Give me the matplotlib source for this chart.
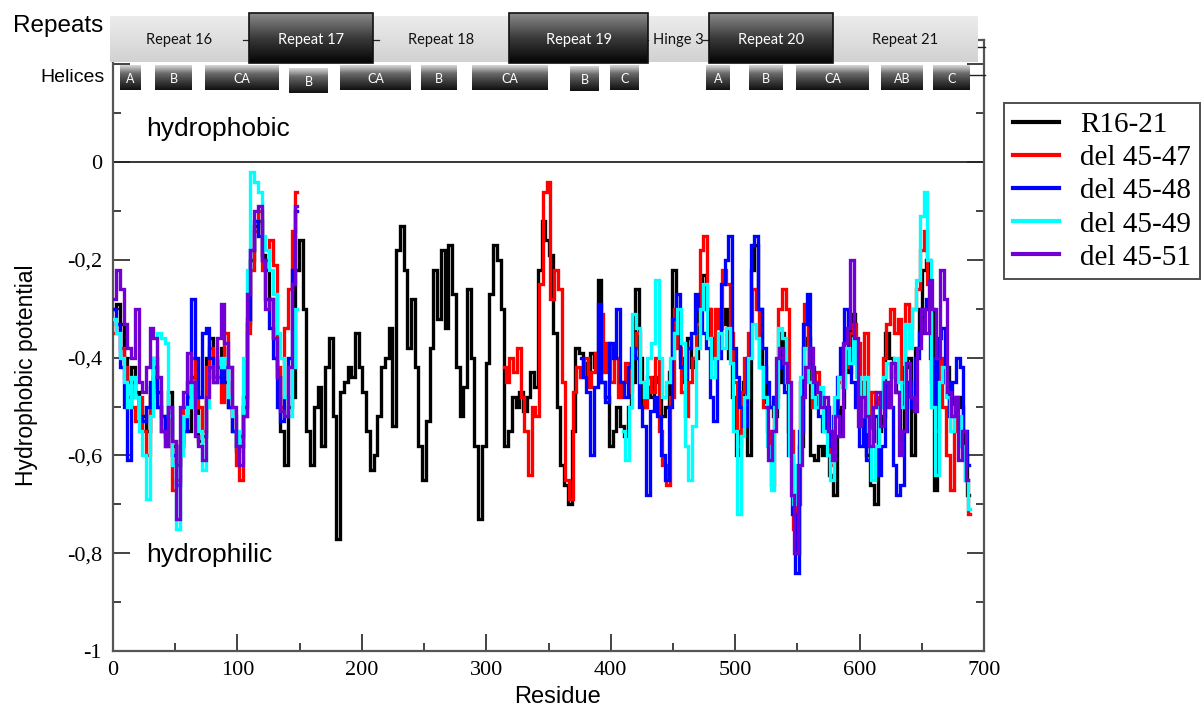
import numpy as np
import matplotlib
matplotlib.use("Agg")
import matplotlib.pyplot as plt
from matplotlib.colors import LinearSegmentedColormap
from matplotlib.patches import Rectangle
from matplotlib.ticker import MultipleLocator, FixedLocator, FixedFormatter

# ---------------------------------------------------------------- data
# Hydrophobic potential per residue window, sampled every 3 residues.
STEP = 3

r16_21_start = 1
r16_21 = [
    -0.30, -0.29, -0.33, -0.40, -0.45, -0.42, -0.47, -0.50, -0.52, -0.55,
    -0.46, -0.40, -0.47, -0.52, -0.56, -0.47, -0.58, -0.62, -0.58, -0.52,
    -0.55, -0.44, -0.50, -0.57, -0.56, -0.40, -0.36, -0.44, -0.42, -0.38,
    -0.45, -0.50, -0.55, -0.59, -0.58, -0.50, -0.33, -0.20, -0.13, -0.12,
    -0.19, -0.22, -0.28, -0.36, -0.44, -0.55, -0.62, -0.50, -0.48, -0.22,
    -0.16, -0.30, -0.55, -0.62, -0.50, -0.46, -0.58, -0.42, -0.36, -0.52,
    -0.77, -0.47, -0.45, -0.42, -0.44, -0.35, -0.42, -0.47, -0.55, -0.63,
    -0.60, -0.52, -0.42, -0.40, -0.34, -0.54, -0.18, -0.13, -0.22, -0.38,
    -0.28, -0.42, -0.58, -0.65, -0.53, -0.38, -0.22, -0.32, -0.18, -0.34,
    -0.17, -0.27, -0.42, -0.52, -0.46, -0.26, -0.40, -0.58, -0.73, -0.58,
    -0.41, -0.27, -0.17, -0.20, -0.30, -0.58, -0.55, -0.48, -0.50, -0.47,
    -0.51, -0.48, -0.43, -0.46, -0.22, -0.12, -0.16, -0.19, -0.35, -0.50,
    -0.62, -0.66, -0.70, -0.55, -0.38, -0.39, -0.41, -0.44, -0.39, -0.42,
    -0.24, -0.45, -0.48, -0.58, -0.55, -0.50, -0.54, -0.56, -0.50, -0.45,
    -0.26, -0.40, -0.50, -0.46, -0.48, -0.44, -0.45, -0.52, -0.50, -0.43,
    -0.22, -0.35, -0.40, -0.45, -0.36, -0.42, -0.40, -0.30, -0.23, -0.30,
    -0.36, -0.40, -0.38, -0.33, -0.30, -0.40, -0.48, -0.60, -0.55, -0.45,
    -0.60, -0.22, -0.17, -0.30, -0.42, -0.49, -0.50, -0.52, -0.45, -0.35,
    -0.40, -0.55, -0.68, -0.80, -0.58, -0.38, -0.36, -0.60, -0.61, -0.58,
    -0.60, -0.58, -0.64, -0.68, -0.56, -0.50, -0.40, -0.43, -0.31, -0.40,
    -0.50, -0.45, -0.60, -0.66, -0.70, -0.55, -0.52, -0.35, -0.40, -0.43,
    -0.47, -0.55, -0.42, -0.40, -0.60, -0.38, -0.30, -0.22, -0.20, -0.30,
    -0.67, -0.48, -0.45, -0.42, -0.50, -0.52, -0.48, -0.50, -0.60, -0.68,
]

# Deletion mutants: N-terminal part (repeats 16-17) and C-terminal part
del47_n_start = 1
del47_n = [
    -0.35, -0.33, -0.38, -0.42, -0.48, -0.50, -0.53, -0.48, -0.55, -0.60,
    -0.48, -0.44, -0.50, -0.55, -0.58, -0.52, -0.67, -0.65, -0.57, -0.50,
    -0.48, -0.40, -0.47, -0.50, -0.55, -0.42, -0.38, -0.45, -0.44, -0.49,
    -0.35, -0.42, -0.52, -0.62, -0.65, -0.52, -0.35, -0.22, -0.14, -0.10,
    -0.22, -0.20, -0.16, -0.21, -0.42, -0.50, -0.34, -0.26, -0.14, -0.06,
]
del47_c_start = 314
del47_c = [
    -0.42, -0.45, -0.40, -0.43, -0.38, -0.48, -0.55, -0.64, -0.50, -0.52,
    -0.25, -0.06, -0.04, -0.28, -0.22, -0.26, -0.45, -0.65, -0.69, -0.47,
    -0.42, -0.44, -0.40, -0.46, -0.43, -0.39, -0.31, -0.43, -0.37, -0.45,
    -0.40, -0.48, -0.45, -0.41, -0.47, -0.38, -0.35, -0.45, -0.50, -0.44,
    -0.47, -0.40, -0.55, -0.62, -0.66, -0.48, -0.30, -0.38, -0.47, -0.52,
    -0.45, -0.40, -0.33, -0.18, -0.15, -0.30, -0.40, -0.30, -0.34, -0.22,
    -0.25, -0.35, -0.45, -0.58, -0.47, -0.40, -0.35, -0.26, -0.30, -0.42,
    -0.50, -0.55, -0.66, -0.48, -0.30, -0.26, -0.30, -0.55, -0.75, -0.70,
    -0.45, -0.29, -0.38, -0.50, -0.43, -0.48, -0.52, -0.55, -0.62, -0.50,
    -0.45, -0.38, -0.42, -0.35, -0.33, -0.37, -0.48, -0.35, -0.55, -0.47,
    -0.50, -0.48, -0.40, -0.33, -0.30, -0.35, -0.32, -0.45, -0.29, -0.34,
    -0.30, -0.26, -0.18, -0.14, -0.25, -0.45, -0.55, -0.40, -0.50, -0.60,
    -0.67, -0.52, -0.55, -0.58, -0.65, -0.72,
]

del48_n_start = 1
del48_n = [
    -0.30, -0.33, -0.42, -0.50, -0.61, -0.45, -0.48, -0.52, -0.53, -0.50,
    -0.45, -0.42, -0.50, -0.55, -0.52, -0.50, -0.60, -0.66, -0.58, -0.55,
    -0.45, -0.28, -0.40, -0.48, -0.35, -0.34, -0.40, -0.44, -0.40, -0.45,
    -0.42, -0.50, -0.55, -0.58, -0.56, -0.48, -0.32, -0.18, -0.12, -0.15,
    -0.20, -0.28, -0.34, -0.40, -0.50, -0.53, -0.48, -0.40, -0.22, -0.10,
]
del48_c_start = 376
del48_c = [
    -0.40, -0.44, -0.47, -0.60, -0.46, -0.29, -0.45, -0.49, -0.37, -0.40,
    -0.30, -0.45, -0.48, -0.42, -0.38, -0.40, -0.50, -0.54, -0.68, -0.51,
    -0.48, -0.52, -0.60, -0.65, -0.50, -0.32, -0.27, -0.42, -0.44, -0.38,
    -0.35, -0.27, -0.30, -0.35, -0.38, -0.48, -0.53, -0.40, -0.25, -0.20,
    -0.15, -0.38, -0.44, -0.50, -0.54, -0.40, -0.17, -0.15, -0.30, -0.38,
    -0.45, -0.50, -0.48, -0.42, -0.40, -0.47, -0.60, -0.72, -0.84, -0.55,
    -0.33, -0.27, -0.42, -0.48, -0.52, -0.55, -0.50, -0.58, -0.52, -0.44,
    -0.38, -0.30, -0.40, -0.45, -0.50, -0.58, -0.50, -0.61, -0.57, -0.52,
    -0.64, -0.58, -0.45, -0.50, -0.62, -0.68, -0.66, -0.55, -0.45, -0.50,
    -0.40, -0.35, -0.30, -0.28, -0.40, -0.50, -0.36, -0.34, -0.45, -0.52,
    -0.45, -0.40, -0.42, -0.55, -0.62,
]

del49_n_start = 1
del49_n = [
    -0.32, -0.35, -0.40, -0.45, -0.50, -0.44, -0.48, -0.55, -0.60, -0.69,
    -0.52, -0.40, -0.35, -0.36, -0.37, -0.52, -0.62, -0.75, -0.60, -0.52,
    -0.50, -0.45, -0.52, -0.55, -0.63, -0.50, -0.42, -0.45, -0.40, -0.42,
    -0.40, -0.48, -0.52, -0.58, -0.55, -0.40, -0.22, -0.02, -0.04, -0.06,
    -0.15, -0.18, -0.22, -0.27, -0.35, -0.40, -0.48, -0.52, -0.42, -0.30,
]
del49_c_start = 410
del49_c = [
    -0.55, -0.61, -0.50, -0.31, -0.34, -0.45, -0.48, -0.40, -0.37, -0.24,
    -0.40, -0.48, -0.45, -0.40, -0.35, -0.30, -0.37, -0.58, -0.65, -0.54,
    -0.38, -0.30, -0.25, -0.36, -0.44, -0.40, -0.35, -0.38, -0.34, -0.41,
    -0.55, -0.72, -0.56, -0.48, -0.40, -0.33, -0.36, -0.42, -0.48, -0.58,
    -0.67, -0.50, -0.34, -0.36, -0.45, -0.60, -0.70, -0.62, -0.44, -0.38,
    -0.45, -0.48, -0.50, -0.46, -0.55, -0.60, -0.65, -0.48, -0.44, -0.46,
    -0.38, -0.41, -0.36, -0.44, -0.52, -0.44, -0.55, -0.65, -0.58, -0.50,
    -0.44, -0.41, -0.44, -0.40, -0.45, -0.50, -0.33, -0.38, -0.30, -0.24,
    -0.11, -0.06, -0.20, -0.50, -0.64, -0.45, -0.42, -0.48, -0.55, -0.50,
    -0.52, -0.58, -0.65, -0.71,
]

del51_n_start = 1
del51_n = [
    -0.28, -0.22, -0.26, -0.33, -0.38, -0.40, -0.30, -0.45, -0.47, -0.42,
    -0.34, -0.36, -0.44, -0.55, -0.58, -0.50, -0.57, -0.73, -0.50, -0.47,
    -0.39, -0.45, -0.56, -0.58, -0.61, -0.48, -0.42, -0.45, -0.36, -0.29,
    -0.37, -0.42, -0.50, -0.58, -0.62, -0.52, -0.27, -0.18, -0.10, -0.09,
    -0.20, -0.30, -0.28, -0.36, -0.44, -0.51, -0.52, -0.42, -0.25, -0.09,
]
del51_c_start = 525
del51_c = [
    -0.50, -0.61, -0.55, -0.40, -0.38, -0.41, -0.45, -0.68, -0.80, -0.62,
    -0.48, -0.42, -0.38, -0.45, -0.47, -0.50, -0.48, -0.55, -0.61, -0.52,
    -0.56, -0.37, -0.34, -0.20, -0.36, -0.54, -0.48, -0.52, -0.58, -0.50,
    -0.47, -0.54, -0.45, -0.50, -0.41, -0.47, -0.60, -0.55, -0.41, -0.48,
    -0.51, -0.38, -0.30, -0.35, -0.24, -0.30, -0.40, -0.22, -0.28, -0.47,
    -0.52, -0.48, -0.61, -0.55, -0.65,
]

series_labels = ["R16-21", "del 45-47", "del 45-48", "del 45-49", "del 45-51"]
series_colors = ["#000000", "#ff0000", "#0000ff", "#00ffff", "#7000d4"]
series_parts = [
    [(r16_21_start, r16_21)],
    [(del47_n_start, del47_n), (del47_c_start, del47_c)],
    [(del48_n_start, del48_n), (del48_c_start, del48_c)],
    [(del49_n_start, del49_n), (del49_c_start, del49_c)],
    [(del51_n_start, del51_n), (del51_c_start, del51_c)],
]

repeat_labels = ["Repeat 16", "Repeat 17", "Repeat 18", "Repeat 19",
                 "Hinge 3", "Repeat 20", "Repeat 21"]
repeat_dark = [False, True, False, True, False, True, False]
helix_labels = ["A", "B", "CA", "B", "CA", "B", "CA", "B", "C",
                "A", "B", "CA", "AB", "C"]

y_tick_values = [-1.0, -0.8, -0.6, -0.4, -0.2, 0.0, 0.2]
y_tick_labels = ["-1", "-0,8", "-0,6", "-0,4", "-0,2", "0", ""]
x_tick_values = [0, 100, 200, 300, 400, 500, 600, 700]

# ---------------------------------------------------------------- figure
W, H = 1203, 708
fig = plt.figure(figsize=(W / 100, H / 100), dpi=100)
fig.patch.set_facecolor("white")

ax_left, ax_right, ax_top, ax_bottom = 113, 984, 40, 651
ax = fig.add_axes([ax_left / W, 1 - ax_bottom / H,
                   (ax_right - ax_left) / W, (ax_bottom - ax_top) / H])

for idx, (label, color, parts) in enumerate(zip(series_labels, series_colors, series_parts)):
    for j, (start, vals) in enumerate(parts):
        res = start + STEP * np.arange(len(vals))
        ax.plot(res, vals, color=color, lw=2.4, drawstyle="steps-mid",
                solid_joinstyle="miter", zorder=2 + idx,
                label=label if j == 0 else None)

ax.axhline(0, color="black", lw=1.1, zorder=1)

ax.set_xlim(0, 700)
ax.set_ylim(-1.0, 0.25)

serif = ["Liberation Serif", "DejaVu Serif"]
sans = ["Liberation Sans", "DejaVu Sans"]

ax.xaxis.set_major_locator(FixedLocator(x_tick_values))
ax.xaxis.set_minor_locator(MultipleLocator(50))
ax.yaxis.set_major_locator(FixedLocator(y_tick_values))
ax.yaxis.set_major_formatter(FixedFormatter(y_tick_labels))
ax.yaxis.set_minor_locator(MultipleLocator(0.1))
ax.tick_params(which="both", direction="in", left=True, right=True,
               bottom=True, top=False, color="#222222", width=1.2)
ax.tick_params(which="major", length=12)
ax.tick_params(which="minor", length=6)
ax.tick_params(axis="x", pad=7)
ax.tick_params(axis="y", pad=8)
for t in ax.get_xticklabels() + ax.get_yticklabels():
    t.set_fontfamily(serif)
    t.set_fontsize(16)
for s in ax.spines.values():
    s.set_color("#555555")
    s.set_linewidth(1.6)

ax.set_xlabel("Residue", fontfamily=sans, fontsize=17)
ax.xaxis.set_label_coords((558 - ax_left) / (ax_right - ax_left), -0.057)
ax.set_ylabel("Hydrophobic potential", fontfamily=sans, fontsize=16.5)
ax.yaxis.set_label_coords((38 - ax_left) / (ax_right - ax_left),
                          (ax_bottom - 375) / (ax_bottom - ax_top))

ax.text(27, 0.067, "hydrophobic", fontfamily=sans, fontsize=19,
        va="center", ha="left")
ax.text(27, -0.804, "hydrophilic", fontfamily=sans, fontsize=19,
        va="center", ha="left")

# Legend, partly running off the right edge of the figure
leg = fig.legend(loc="upper left", bbox_to_anchor=(1004 / W, 1 - 103 / H),
                 prop={"family": serif, "size": 21}, frameon=True,
                 fancybox=False, edgecolor="#222222", handlelength=1.6,
                 handletextpad=0.7, labelspacing=0.23, borderpad=0.3,
                 borderaxespad=0)
leg.get_frame().set_linewidth(1.4)
for line in leg.get_lines():
    line.set_linewidth(3.0)
    line.set_drawstyle("default")

# ---------------------------------------------------------------- header
ov = fig.add_axes([0, 0, 1, 1], zorder=10)
ov.patch.set_visible(False)
ov.axis("off")

light_cmap = LinearSegmentedColormap.from_list("light", ["#ececec", "#d2d2d2"])
dark_cmap = LinearSegmentedColormap.from_list("dark", ["#8a8a8a", "#3a3a3a", "#050505"])
helix_cmap = LinearSegmentedColormap.from_list(
    "helix", ["#d8d8d8", "#6a6a6a", "#3a3a3a", "#111111"])
grad = np.linspace(0, 1, 64).reshape(-1, 1)


def grad_box(x0, x1, y0, y1, cmap, edge=None, z=1):
    ov.imshow(grad, extent=(x0, x1, y1, y0), cmap=cmap, aspect="auto",
              origin="upper", zorder=z, interpolation="bicubic")
    if edge:
        ov.add_patch(Rectangle((x0, y0), x1 - x0, y1 - y0, fill=False,
                               edgecolor=edge, lw=1.2, zorder=z + 0.5))


repeat_edges = [110, 249, 373, 509, 648, 709, 833, 978]
for i, lab in enumerate(repeat_labels):
    x0, x1 = repeat_edges[i], repeat_edges[i + 1]
    if repeat_dark[i]:
        grad_box(x0, x1, 13, 63, dark_cmap, edge="#111111", z=3)
        col = "white"
    else:
        grad_box(x0, x1, 16, 62, light_cmap, z=1)
        col = "#111111"
    ov.text((x0 + x1) / 2, 40, lab, ha="center", va="center", color=col,
            fontfamily=["Lato", "DejaVu Sans"], fontsize=10.5, zorder=6)

# small connectors between the repeat blocks
for xc in [246, 376, 645, 706]:
    ov.plot([xc - 3, xc + 3], [40, 40], color="#222222", lw=0.9, zorder=2)
ov.plot([978, 985], [47, 47], color="#222222", lw=1.0, zorder=2)
ov.plot([970, 985], [75, 75], color="#222222", lw=1.0, zorder=2)

helix_spans = [(120, 141), (155, 192), (205, 279), (289, 328), (340, 411),
               (421, 457), (472, 548), (570, 599), (610, 639),
               (706, 730), (749, 783), (796, 869), (881, 923), (933, 970)]
helix_offsets = [0, 0, 0, 3, 0, 0, 0, 1, 0, 0, 0, 0, 0, 0]
for (x0, x1), lab, dy in zip(helix_spans, helix_labels, helix_offsets):
    grad_box(x0, x1, 65 + dy, 90 + dy, helix_cmap, z=3)
    ov.text((x0 + x1) / 2, 79 + dy, lab, ha="center", va="center",
            color="white", fontfamily=["Lato", "DejaVu Sans"], fontsize=9,
            zorder=6)

ov.text(103, 26, "Repeats", ha="right", va="center", fontfamily=sans,
        fontsize=17.5, zorder=6)
ov.text(105, 78, "Helices", ha="right", va="center", fontfamily=sans,
        fontsize=14, zorder=6)

ov.set_xlim(0, W)
ov.set_ylim(H, 0)
ov.set_aspect("auto")

fig.savefig("out.png", dpi=100)
